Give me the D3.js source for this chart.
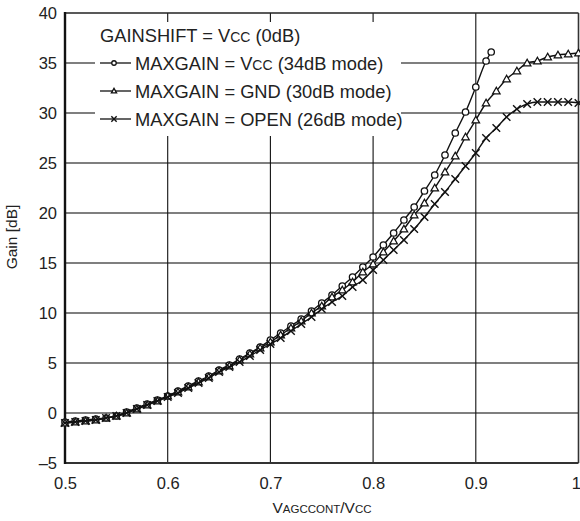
<!DOCTYPE html>
<html>
<head>
<meta charset="utf-8">
<script src="https://cdn.jsdelivr.net/npm/d3@7"></script>
<style>
  html, body { margin: 0; padding: 0; background: #fff; }
  svg { display: block; font-family: "Liberation Sans", Arial, Helvetica, sans-serif; }
</style>
</head>
<body>
<svg id="chart" width="580" height="521"></svg>
<script>
// ---- data ----
const xVcc = [0.50,0.51,0.52,0.53,0.54,0.55,0.56,0.57,0.58,0.59,0.60,0.61,0.62,0.63,0.64,0.65,0.66,0.67,0.68,0.69,0.70,0.71,0.72,0.73,0.74,0.75,0.76,0.77,0.78,0.79,0.80,0.81,0.82,0.83,0.84,0.85,0.86,0.87,0.88,0.89,0.90,0.91,0.915];
const gainVcc = [-0.9,-0.8,-0.7,-0.6,-0.5,-0.3,0.1,0.5,0.9,1.3,1.7,2.2,2.7,3.2,3.7,4.3,4.8,5.4,6.0,6.6,7.3,8.0,8.7,9.4,10.2,11.0,11.8,12.7,13.6,14.6,15.6,16.8,18.0,19.3,20.6,22.2,23.8,25.8,28.0,30.1,32.6,35.2,36.1];

const xFull = [0.50,0.51,0.52,0.53,0.54,0.55,0.56,0.57,0.58,0.59,0.60,0.61,0.62,0.63,0.64,0.65,0.66,0.67,0.68,0.69,0.70,0.71,0.72,0.73,0.74,0.75,0.76,0.77,0.78,0.79,0.80,0.81,0.82,0.83,0.84,0.85,0.86,0.87,0.88,0.89,0.90,0.91,0.92,0.93,0.94,0.95,0.96,0.97,0.98,0.99,1.00];
const gainGnd = [-1.0,-0.9,-0.8,-0.7,-0.5,-0.3,0.0,0.4,0.8,1.2,1.7,2.1,2.6,3.1,3.6,4.2,4.7,5.3,5.9,6.5,7.1,7.8,8.5,9.2,10.0,10.7,11.6,12.3,13.1,14.1,14.9,16.1,17.2,18.4,19.8,21.0,22.5,24.1,25.7,27.6,29.3,31.0,32.2,33.4,34.2,35.0,35.2,35.6,35.8,35.9,36.0];
const gainOpen = [-1.0,-0.9,-0.8,-0.7,-0.5,-0.3,0.0,0.4,0.8,1.2,1.6,2.0,2.5,3.0,3.5,4.1,4.6,5.1,5.7,6.3,6.9,7.5,8.2,8.9,9.6,10.4,11.1,11.7,12.6,13.3,14.3,15.3,16.3,17.3,18.4,19.6,20.9,22.1,23.4,24.7,26.0,27.5,28.5,29.6,30.4,30.9,31.1,31.1,31.1,31.1,31.0];

const xTicks = [0.5,0.6,0.7,0.8,0.9,1.0];
const xTickLabels = ["0.5","0.6","0.7","0.8","0.9","1"];
const yTicks = [-5,0,5,10,15,20,25,30,35,40];
const yTickLabels = ["\u20135","0","5","10","15","20","25","30","35","40"];

const legendTitle = ["GAINSHIFT = V", "CC", " (0dB)"];
const legendLabels = [
  ["MAXGAIN = V", "CC", " (34dB mode)"],
  ["MAXGAIN = GND (30dB mode)", "", ""],
  ["MAXGAIN = OPEN (26dB mode)", "", ""]
];
const markerTypes = ["circle","triangle","cross"];

// ---- layout ----
const svg = d3.select("#chart");
const L = 65, R = 578.5, T = 13, B = 463;
const x = d3.scaleLinear().domain([0.5, 1.0]).range([L, R]);
const y = d3.scaleLinear().domain([-5, 40]).range([B, T]);

// grid
const gGrid = svg.append("g");
gGrid.selectAll("line.h").data(yTicks.filter(v => v > -5 && v < 40)).enter().append("line")
  .attr("x1", L).attr("x2", R).attr("y1", d => y(d)).attr("y2", d => y(d))
  .attr("stroke", "#555").attr("stroke-width", 1.4);
gGrid.selectAll("line.v").data(xTicks.filter(v => v > 0.5 && v < 1)).enter().append("line")
  .attr("y1", T).attr("y2", B).attr("x1", d => x(d)).attr("x2", d => x(d))
  .attr("stroke", "#111").attr("stroke-width", 1.1);

// legend background (covers grid)
const lgX = 95, lgY = 22, lgW = 306, lgH = 114;
svg.append("rect").attr("x", lgX).attr("y", lgY).attr("width", lgW).attr("height", lgH).attr("fill", "#fff");

// frame
svg.append("line").attr("x1", L).attr("x2", R).attr("y1", T).attr("y2", T).attr("stroke", "#222").attr("stroke-width", 1.6);
svg.append("line").attr("x1", R).attr("x2", R).attr("y1", T).attr("y2", B).attr("stroke", "#333").attr("stroke-width", 1.6);
svg.append("line").attr("x1", L).attr("x2", R).attr("y1", B).attr("y2", B).attr("stroke", "#333").attr("stroke-width", 2.2);
svg.append("line").attr("x1", L).attr("x2", L).attr("y1", T - 1).attr("y2", B + 1).attr("stroke", "#111").attr("stroke-width", 2.4);

// axes labels via d3 axes
const yAxis = d3.axisLeft(y).tickValues(yTicks).tickSize(0).tickPadding(0)
  .tickFormat((d, i) => yTickLabels[i]);
const gy = svg.append("g").attr("transform", `translate(${L - 8},0)`).call(yAxis);
gy.select(".domain").remove();
gy.selectAll("text").attr("font-size", 16.5).attr("fill", "#222").attr("font-family", "Liberation Sans, Arial, sans-serif");

const xAxis = d3.axisBottom(x).tickValues(xTicks).tickSize(0).tickPadding(0)
  .tickFormat((d, i) => xTickLabels[i]);
const gx = svg.append("g").attr("transform", `translate(0,${B + 14})`).call(xAxis);
gx.select(".domain").remove();
gx.selectAll("text").attr("font-size", 16.5).attr("fill", "#222").attr("font-family", "Liberation Sans, Arial, sans-serif");
gx.selectAll(".tick").filter(d => d === 1.0).select("text").attr("text-anchor", "end").attr("dx", 2);

// axis titles
svg.append("text").attr("transform", "translate(17,237) rotate(-90)")
  .attr("text-anchor", "middle").attr("font-size", 15.5).attr("fill", "#222").text("Gain [dB]");
const xt = svg.append("text").attr("x", 322).attr("y", 513).attr("text-anchor", "middle").attr("font-size", 15.5).attr("fill", "#222");
xt.append("tspan").text("V");
xt.append("tspan").attr("font-size", 11.5).text("AGCCONT");
xt.append("tspan").text("/V");
xt.append("tspan").attr("font-size", 11.5).text("CC");

// series
const series = [
  { xs: xVcc, ys: gainVcc, m: markerTypes[0] },
  { xs: xFull, ys: gainGnd, m: markerTypes[1] },
  { xs: xFull, ys: gainOpen, m: markerTypes[2] }
];
const line = d3.line().x(d => x(d[0])).y(d => y(d[1])).curve(d3.curveMonotoneX);

function drawMarker(g, type, cx, cy, s) {
  if (type === "circle") {
    g.append("circle").attr("cx", cx).attr("cy", cy).attr("r", 3.2 * s)
      .attr("fill", "#fff").attr("stroke", "#111").attr("stroke-width", 1.3);
  } else if (type === "triangle") {
    const h = 3.7 * s;
    g.append("path").attr("d", `M${cx},${cy - h}L${cx + h * 1.0},${cy + h * 0.75}L${cx - h * 1.0},${cy + h * 0.75}Z`)
      .attr("fill", "#fff").attr("stroke", "#111").attr("stroke-width", 1.3);
  } else {
    const a = 3.8 * s;
    g.append("path").attr("d", `M${cx - a},${cy - a}L${cx + a},${cy + a}M${cx - a},${cy + a}L${cx + a},${cy - a}`)
      .attr("fill", "none").attr("stroke", "#111").attr("stroke-width", 1.4);
  }
}

series.forEach(s => {
  const pts = s.xs.map((v, i) => [v, s.ys[i]]);
  svg.append("path").datum(pts).attr("d", line).attr("fill", "none").attr("stroke", "#111").attr("stroke-width", 1.4);
  const g = svg.append("g");
  pts.forEach(p => drawMarker(g, s.m, x(p[0]), y(p[1]), 1));
});

// legend
const lg = svg.append("g");
const t0 = lg.append("text").attr("x", 100).attr("y", 42).attr("font-size", 18.3).attr("fill", "#222");
t0.append("tspan").text(legendTitle[0]);
t0.append("tspan").attr("font-size", 14).text(legendTitle[1]);
t0.append("tspan").text(legendTitle[2]);
legendLabels.forEach((lab, i) => {
  const by = 70 + i * 28;
  const cy = by - 7;
  lg.append("line").attr("x1", 100).attr("x2", 131).attr("y1", cy).attr("y2", cy).attr("stroke", "#111").attr("stroke-width", 1.3);
  drawMarker(lg, markerTypes[i], 114, cy, 0.7);
  const t = lg.append("text").attr("x", 135).attr("y", by).attr("font-size", 18.3).attr("fill", "#222");
  t.append("tspan").text(lab[0]);
  if (lab[1]) t.append("tspan").attr("font-size", 14).text(lab[1]);
  if (lab[2]) t.append("tspan").text(lab[2]);
});
</script>
</body>
</html>
